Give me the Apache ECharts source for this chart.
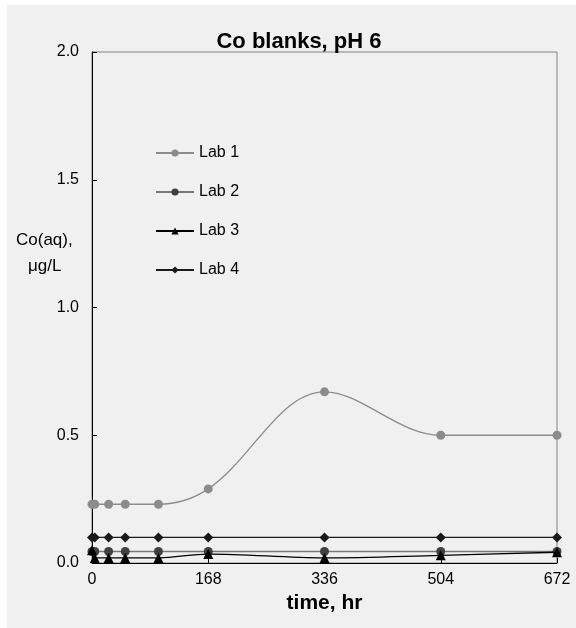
<!DOCTYPE html>
<html>
<head>
<meta charset="utf-8">
<script src="https://cdn.jsdelivr.net/npm/echarts@6/dist/echarts.min.js"></script>
<style>
html,body{margin:0;padding:0;background:#fff;}
#c{width:576px;height:628px;}
</style>
</head>
<body>
<div id="c"></div>
<script>
const times = [0, 4, 24, 48, 96, 168, 336, 504, 672];
const lab1 = [0.23, 0.23, 0.23, 0.23, 0.23, 0.29, 0.67, 0.50, 0.50];
const lab2 = [0.045, 0.045, 0.045, 0.045, 0.045, 0.045, 0.045, 0.045, 0.045];
const lab3 = [0.05, 0.02, 0.02, 0.02, 0.02, 0.035, 0.02, 0.03, 0.042];
const lab4 = [0.1, 0.1, 0.1, 0.1, 0.1, 0.1, 0.1, 0.1, 0.1];
const seriesNames = ['Lab 1', 'Lab 2', 'Lab 3', 'Lab 4'];
const xTicks = [0, 168, 336, 504, 672];
const yTicks = [0, 0.5, 1.0, 1.5, 2.0];

const pair = arr => times.map((t, i) => [t, arr[i]]);
const font = '"Liberation Sans", Arial, sans-serif';

const chart = echarts.init(document.getElementById('c'), null, {renderer: 'canvas'});
chart.setOption({
  backgroundColor: '#ffffff',
  animation: false,
  textStyle: {fontFamily: font},
  graphic: [
    {type: 'rect', z: -10, silent: true, shape: {x: 7, y: 5, width: 569, height: 623}, style: {fill: '#f0f0f0'}},
    {type: 'text', left: 16, top: 232, style: {text: 'Co(aq),', font: '17px ' + font, fill: '#000'}},
    {type: 'text', left: 28, top: 258, style: {text: 'μg/L', font: '17px ' + font, fill: '#000'}}
  ],
  title: {
    text: 'Co blanks, pH 6',
    left: 294, top: 26, textAlign: 'center',
    textStyle: {fontFamily: font, fontSize: 22, fontWeight: 'bold', color: '#000'}
  },
  legend: {
    orient: 'vertical',
    left: 150, top: 140,
    itemWidth: 38, itemHeight: 9, itemGap: 23,
    textStyle: {fontFamily: font, fontSize: 16, color: '#000'},
    data: seriesNames
  },
  grid: {left: 92, right: 19, top: 52, bottom: 65, show: true, borderColor: '#808080', borderWidth: 1, backgroundColor: 'transparent'},
  xAxis: {
    type: 'value', min: 0, max: 672, interval: 168,
    name: 'time, hr', nameLocation: 'middle', nameGap: 18,
    nameTextStyle: {fontFamily: font, fontSize: 21, fontWeight: 'bold', color: '#000'},
    axisLine: {show: true, onZero: false, lineStyle: {color: '#000', width: 1}},
    axisTick: {show: true, inside: true, length: 5, lineStyle: {color: '#000'}},
    axisLabel: {fontFamily: font, fontSize: 16, color: '#000', margin: 9,
      formatter: v => xTicks.includes(v) ? String(v) : ''},
    splitLine: {show: false}
  },
  yAxis: {
    type: 'value', min: 0, max: 2, interval: 0.5,
    axisLine: {show: true, lineStyle: {color: '#000', width: 1}},
    axisTick: {show: true, inside: true, length: 5, lineStyle: {color: '#000'}},
    axisLabel: {fontFamily: font, fontSize: 16, color: '#000', margin: 13,
      formatter: v => yTicks.includes(v) ? v.toFixed(1) : ''},
    splitLine: {show: false}
  },
  series: [
    {name: 'Lab 1', type: 'line', data: pair(lab1), smooth: 0.35, symbol: 'circle', symbolSize: 9,
      itemStyle: {color: '#8c8c8c'}, lineStyle: {color: '#8c8c8c', width: 1.3}, z: 2},
    {name: 'Lab 2', type: 'line', data: pair(lab2), smooth: 0.35, symbol: 'circle', symbolSize: 9,
      itemStyle: {color: '#404040'}, lineStyle: {color: '#777777', width: 1.3}, z: 3},
    {name: 'Lab 3', type: 'line', data: pair(lab3), smooth: 0.35, symbol: 'triangle', symbolSize: 10,
      itemStyle: {color: '#000000'}, lineStyle: {color: '#000000', width: 1.3}, z: 4},
    {name: 'Lab 4', type: 'line', data: pair(lab4), smooth: 0.35, symbol: 'diamond', symbolSize: 10,
      itemStyle: {color: '#1a1a1a'}, lineStyle: {color: '#1a1a1a', width: 1.3}, z: 5}
  ]
});
</script>
</body>
</html>
